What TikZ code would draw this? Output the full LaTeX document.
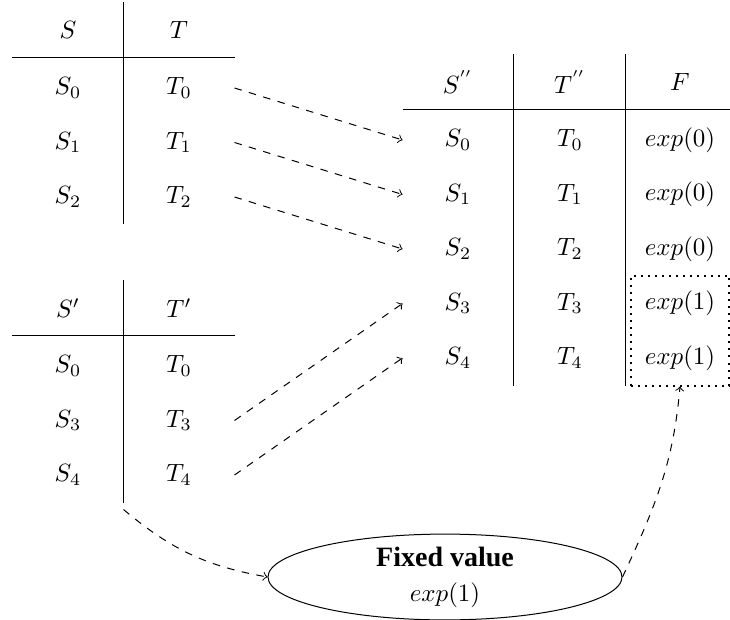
\documentclass[tikz,border=0pt]{standalone}
\usepackage[no-math]{fontspec}
\setmainfont{Liberation Serif}
\usetikzlibrary{shapes.geometric,fit}
\tikzset{
  diagram/.style={x=0.4pt,y=0.4pt},
  cell/.style={inner sep=0pt,minimum width=44pt,minimum height=21.6pt},
  rule/.style={line width=0.4pt},
  link/.style={->,dashed},
  fixbox/.style={draw,dotted,thick,inner xsep=-2.6pt,inner ysep=0pt},
  fixed/.style={draw,ellipse,minimum width=141.6pt,minimum height=32pt,align=center,inner sep=0pt,
    font=\fontsize{10}{14}\selectfont},
}

\begin{document}
\begin{tikzpicture}[diagram]
  \useasboundingbox (0,0) rectangle (730,619);

  % first source table
  \node[cell] (sA) at (68,589) {$S$};
  \node[cell] (tA) at (179,589) {$T$};
  \foreach \i in {0,1,2} {
    \node[cell] (sA\i) at (68,531-54.5*\i) {$S_\i$};
    \node[cell] (tA\i) at (179,531-54.5*\i) {$T_\i$};
  }
  \draw[rule] (sA.south west) -- (tA.south east);
  \draw[rule] (sA.north east) -- (sA2.south east);

  % second source table
  \node[cell] (sB) at (68,311) {$S'$};
  \node[cell] (tB) at (179,311) {$T'$};
  \foreach \i/\k in {0/0,1/3,2/4} {
    \node[cell] (sB\i) at (68,253-54.5*\i) {$S_\k$};
    \node[cell] (tB\i) at (179,253-54.5*\i) {$T_\k$};
  }
  \draw[rule] (sB.south west) -- (tB.south east);
  \draw[rule] (sB.north east) -- (sB2.south east);

  % merged table
  \node[cell] (sC) at (458,537) {$S^{''}$};
  \node[cell] (tC) at (570,537) {$T^{''}$};
  \node[cell] (fC) at (680,537) {$F$};
  \foreach \i/\v in {0/0,1/0,2/0,3/1,4/1} {
    \node[cell] (sC\i) at (458,479-54.5*\i) {$S_\i$};
    \node[cell] (tC\i) at (570,479-54.5*\i) {$T_\i$};
    \node[cell] (fC\i) at (680,479-54.5*\i) {$exp(\v)$};
  }
  \draw[rule] (sC.south west) -- (fC.south east);
  \draw[rule] (sC.north east) -- (sC4.south east);
  \draw[rule] (tC.north east) -- (tC4.south east);

  \node[fixbox,fit=(fC3)(fC4)] (box) {};
  \node[fixed] (fixed) at (445,42)
    {{\fontsize{11.2}{14}\selectfont\bfseries Fixed value}\\$exp(1)$};
  \coordinate (tail) at ([yshift=-2.8pt]sB2.south east);

  \foreach \i in {0,1,2}
    \draw[link] (tA\i.east) -- (sC\i.west);
  \draw[link] (tB1.east) -- (sC3.west);
  \draw[link] (tB2.east) -- (sC4.west);
  \draw[link] (tail) to[out=-40,in=170] (fixed.west);
  \draw[link] (fixed.east) to[out=65,in=-95] (box.south);
\end{tikzpicture}
\end{document}
